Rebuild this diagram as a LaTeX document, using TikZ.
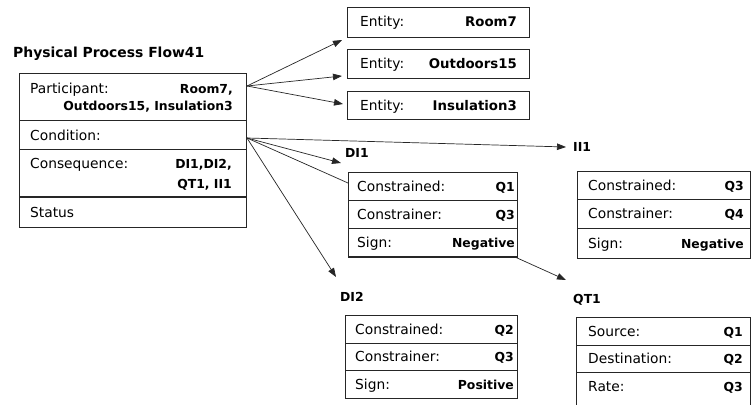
\documentclass[tikz,border=0pt]{standalone}
\usepackage{fontspec}
\setmainfont{DejaVu Sans}
\usetikzlibrary{arrows.meta}

\tikzset{
  cell/.style={draw=black!85, line width=0.9pt, rectangle, anchor=north west,
    inner sep=0pt, outer sep=0pt},
  key/.style={anchor=base west, inner sep=0pt, font=\fontsize{13.8}{16}\selectfont},
  val/.style={anchor=base east, inner sep=0pt, font=\bfseries\fontsize{12.4}{15}\selectfont},
  bigval/.style={val, font=\bfseries\fontsize{13.3}{15}\selectfont},
  tag/.style={anchor=base west, inner sep=0pt, font=\bfseries\fontsize{12.4}{15}\selectfont},
  ttl/.style={anchor=base west, inner sep=0pt, font=\bfseries\fontsize{13.9}{16}\selectfont},
  link/.style={draw=black!85, line width=0.7pt, -{Triangle[length=9pt,width=6.5pt]}},
  plainlink/.style={draw=black!85, line width=0.7pt},
}

\begin{document}
\begin{tikzpicture}[x=1pt,y=-1pt]
\path[use as bounding box] (0,0) rectangle (751,404);
\fill[white] (0,0) rectangle (751,404);
\clip (0,0) rectangle (751,404);

% ---- process frame ----
\node[ttl] (title) at (13,57) {Physical Process Flow41};
\node[cell, minimum width=227pt, minimum height=47pt] (mPart) at (19,73) {};
\node[cell, minimum width=227pt, minimum height=29pt] (mCond) at (19,120) {};
\node[cell, minimum width=227pt, minimum height=48pt] (mCons) at (19,149) {};
\node[cell, minimum width=227pt, minimum height=30pt] (mStat) at (19,197) {};
\draw[line width=2pt, black!85] (mCons.south west) -- (mCons.south east);

\node[key] (kPart) at (30,93) {Participant:};
\node[val] (vPart1) at (233,93) {Room7,};
\node[val] (vPart2) at (233,110) {Outdoors15, Insulation3};
\node[key] (kCond) at (30,140) {Condition:};
\node[key] (kCons) at (30,168) {Consequence:};
\node[val] (vCons1) at (232,168) {DI1,DI2,};
\node[val] (vCons2) at (232,188) {QT1, II1};
\node[key] (kStat) at (30,217) {Status};

% ---- entities ----
\node[cell, minimum width=182pt, minimum height=30pt] (eRoom) at (347,7) {};
\node[cell, minimum width=182pt, minimum height=29pt] (eOut) at (347,49) {};
\node[cell, minimum width=182pt, minimum height=28pt] (eIns) at (347,91) {};
\node[key] (kRoom) at (360,27) {Entity:};
\node[bigval] (vRoom) at (517,27) {Room7};
\node[key] (kOut) at (360,68) {Entity:};
\node[bigval] (vOut) at (517,68) {Outdoors15};
\node[key] (kIns) at (360,110) {Entity:};
\node[bigval] (vIns) at (517,110) {Insulation3};

% ---- DI1 ----
\node[tag] (tDI1) at (345,157) {DI1};
\node[cell, minimum width=169pt, minimum height=28pt] (d1a) at (348,172) {};
\node[cell, minimum width=169pt, minimum height=28pt] (d1b) at (348,200) {};
\node[cell, minimum width=169pt, minimum height=29pt] (d1c) at (348,228) {};
\draw[line width=1.6pt, black!85] (d1c.south west) -- (d1c.south east);
\node[key] at (357,191) {Constrained:};
\node[val] at (515,191) {Q1};
\node[key] at (357,219) {Constrainer:};
\node[val] at (515,219) {Q3};
\node[key] at (357,247) {Sign:};
\node[val] at (515,247) {Negative};

% ---- DI2 ----
\node[tag] (tDI2) at (340,301) {DI2};
\node[cell, minimum width=172pt, minimum height=28pt] (d2a) at (345,315) {};
\node[cell, minimum width=172pt, minimum height=27pt] (d2b) at (345,343) {};
\node[cell, minimum width=172pt, minimum height=28pt] (d2c) at (345,370) {};
\node[key] at (355,334) {Constrained:};
\node[val] at (514,334) {Q2};
\node[key] at (355,361) {Constrainer:};
\node[val] at (514,361) {Q3};
\node[key] at (355,389) {Sign:};
\node[val] at (514,389) {Positive};

% ---- II1 ----
\node[tag] (tII1) at (573,151) {II1};
\node[cell, minimum width=173pt, minimum height=28pt] (i1a) at (577,171) {};
\node[cell, minimum width=173pt, minimum height=29pt] (i1b) at (577,199) {};
\node[cell, minimum width=173pt, minimum height=30pt] (i1c) at (577,228) {};
\node[key] at (588,190) {Constrained:};
\node[val] at (744,190) {Q3};
\node[key] at (588,218) {Constrainer:};
\node[val] at (744,218) {Q4};
\node[key] at (588,248) {Sign:};
\node[val] at (744,248) {Negative};

% ---- QT1 ----
\node[tag] (tQT1) at (573,303) {QT1};
\node[cell, minimum width=174pt, minimum height=28pt] (q1a) at (576,317) {};
\node[cell, minimum width=174pt, minimum height=27pt] (q1b) at (576,345) {};
\node[cell, minimum width=174pt, minimum height=40pt] (q1c) at (576,372) {};
\node[key] at (588,336) {Source:};
\node[val] at (743,336) {Q1};
\node[key] at (588,363) {Destination:};
\node[val] at (743,363) {Q2};
\node[key] at (588,391) {Rate:};
\node[val] at (743,391) {Q3};

% ---- connector ends ----
\coordinate (oP) at (247,86);
\coordinate (oC) at (247,138);
\coordinate (oD) at (515,257);
\coordinate (pRoom) at (342,40);
\coordinate (pOut) at (342,76);
\coordinate (pIns) at (343,104);
\coordinate (pII1) at (566,147);
\coordinate (pDI1) at (341,163);
\coordinate (pD1box) at (348,183);
\coordinate (pDI2) at (336,277);
\coordinate (pQT1) at (566,280);

\draw[link] (oP) -- (pRoom);
\draw[link] (oP) -- (pOut);
\draw[link] (oP) -- (pIns);
\draw[link] (oC) -- (pII1);
\draw[link] (oC) -- (pDI1);
\draw[plainlink] (oC) -- (pD1box);
\draw[link] (oC) -- (pDI2);
\draw[link] (oD) -- (pQT1);
\end{tikzpicture}
\end{document}
